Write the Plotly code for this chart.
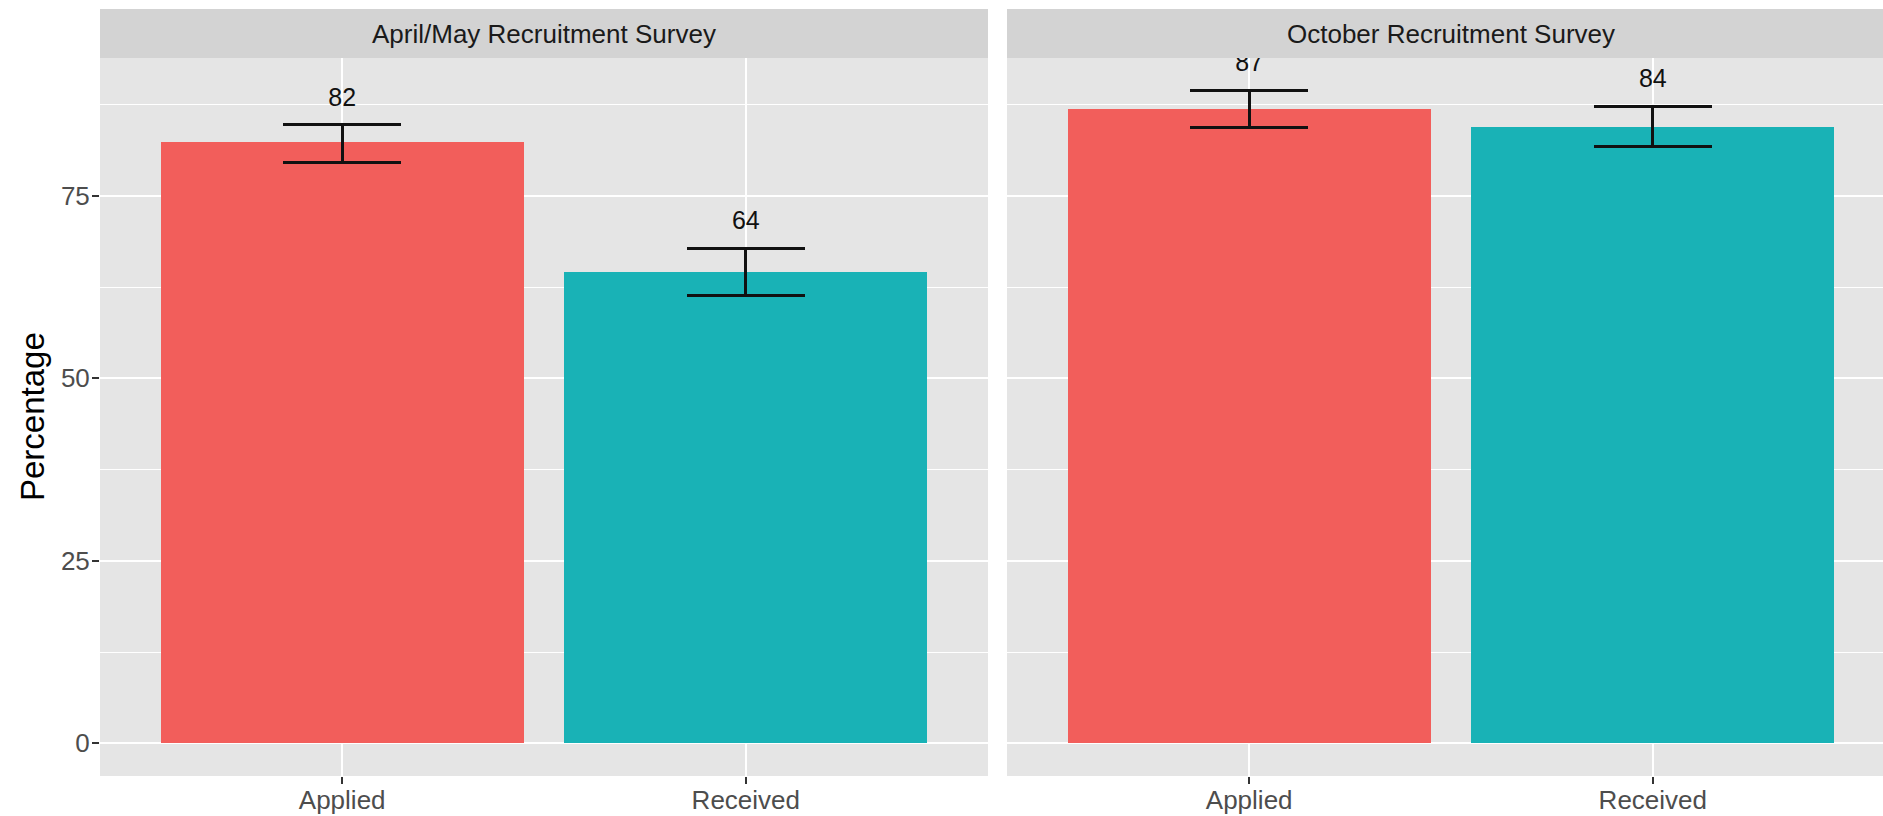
import plotly.graph_objects as go

# ---- data ----
panels = ["April/May Recruitment Survey", "October Recruitment Survey"]
categories = ["Applied", "Received"]
values_apr = [82.3, 64.6]
lower_apr = [79.6, 61.4]
upper_apr = [84.7, 67.8]
values_oct = [86.9, 84.4]
lower_oct = [84.4, 81.7]
upper_oct = [89.4, 87.2]
labels_apr = ["82", "64"]
labels_oct = ["87", "84"]
y_ticks = [0, 25, 50, 75]
y_minor = [12.5, 37.5, 62.5, 87.5]

# ---- style ----
W, H = 1883, 816
bar_colors = ["#F25E5B", "#19B2B6"]
panel_bg = "#E5E5E5"
strip_bg = "#D3D3D3"
font_family = "Liberation Sans, Arial, sans-serif"
tick_font = dict(family=font_family, size=26, color="#4D4D4D")

x_pos = [1, 2]
margin_t, margin_b = 58, 40
plot_h = H - margin_t - margin_b

p1 = (100 / W, 988 / W)
p2 = (1007 / W, 1.0)
unit = (988 - 100) / 2.2
x2_max = 0.4 + (W - 1007) / unit

y_range = [-4.47, 93.87]

fig = go.Figure()

def add_panel(vals, lo, up, labs, xa, ya):
    fig.add_trace(go.Bar(
        x=x_pos, y=vals, width=0.9,
        marker=dict(color=bar_colors, line=dict(width=0)),
        error_y=dict(type="data", symmetric=False,
                     array=[u - v for u, v in zip(up, vals)],
                     arrayminus=[v - l for v, l in zip(vals, lo)],
                     color="#111111", thickness=3, width=59),
        xaxis=xa, yaxis=ya, showlegend=False, hoverinfo="skip"))
    fig.add_trace(go.Scatter(
        x=x_pos, y=[u + 3.5 for u in up], mode="text", text=labs,
        textposition="middle center",
        textfont=dict(family=font_family, size=25, color="#111111"),
        cliponaxis=True, xaxis=xa, yaxis=ya, showlegend=False, hoverinfo="skip"))

add_panel(values_apr, lower_apr, upper_apr, labels_apr, "x", "y")
add_panel(values_oct, lower_oct, upper_oct, labels_oct, "x2", "y2")

xaxis_common = dict(
    tickmode="array", tickvals=x_pos, ticktext=categories,
    showgrid=True, gridcolor="white", gridwidth=2,
    zeroline=False, showline=False, automargin=False,
    ticks="outside", ticklen=7, tickwidth=2, tickcolor="#333333",
    ticklabelstandoff=-6,
    tickfont=tick_font, fixedrange=True,
)
yaxis_common = dict(
    range=y_range, tickmode="array", tickvals=y_ticks,
    showgrid=True, gridcolor="white", gridwidth=2,
    minor=dict(tickmode="array", tickvals=y_minor, showgrid=True,
               gridcolor="white", gridwidth=1, ticks=""),
    zeroline=False, showline=False, fixedrange=True, automargin=False,
    domain=[0, 1],
)

fig.update_layout(
    width=W, height=H,
    margin=dict(l=0, r=0, t=margin_t, b=margin_b, autoexpand=False),
    paper_bgcolor="white", plot_bgcolor=panel_bg,
    bargap=0,
    xaxis=dict(domain=list(p1), range=[0.4, 2.6], anchor="y", **xaxis_common),
    xaxis2=dict(domain=list(p2), range=[0.4, x2_max], anchor="y2", **xaxis_common),
    yaxis=dict(anchor="x", ticks="outside", ticklen=7, tickwidth=2,
               tickcolor="#333333", tickfont=tick_font, ticklabelstandoff=-3,
               **yaxis_common),
    yaxis2=dict(anchor="x2", showticklabels=False, ticks="", **yaxis_common),
    showlegend=False,
)

# facet strips
strip_h = 49 / plot_h
for (d0, d1), name, cx in [(p1, panels[0], (p1[0] + p1[1]) / 2),
                           (p2, panels[1], (1007 + 1007 + 2.2 * unit) / 2 / W)]:
    fig.add_shape(type="rect", xref="paper", yref="paper",
                  x0=d0, x1=d1, y0=1, y1=1 + strip_h,
                  fillcolor=strip_bg, line=dict(width=0), layer="below")
    fig.add_annotation(text=name, xref="paper", yref="paper",
                       x=cx, y=1 + strip_h / 2, xanchor="center", yanchor="middle",
                       showarrow=False,
                       font=dict(family=font_family, size=26, color="#1A1A1A"))

# y-axis title
fig.add_annotation(text="Percentage", xref="paper", yref="paper",
                   x=32 / W, y=0.5, xanchor="center", yanchor="middle",
                   textangle=-90, showarrow=False,
                   font=dict(family=font_family, size=33, color="#000000"))

fig.write_html("out.html", config={"displayModeBar": False},
               post_script="document.body.style.margin='0';document.body.style.overflow='hidden';")
